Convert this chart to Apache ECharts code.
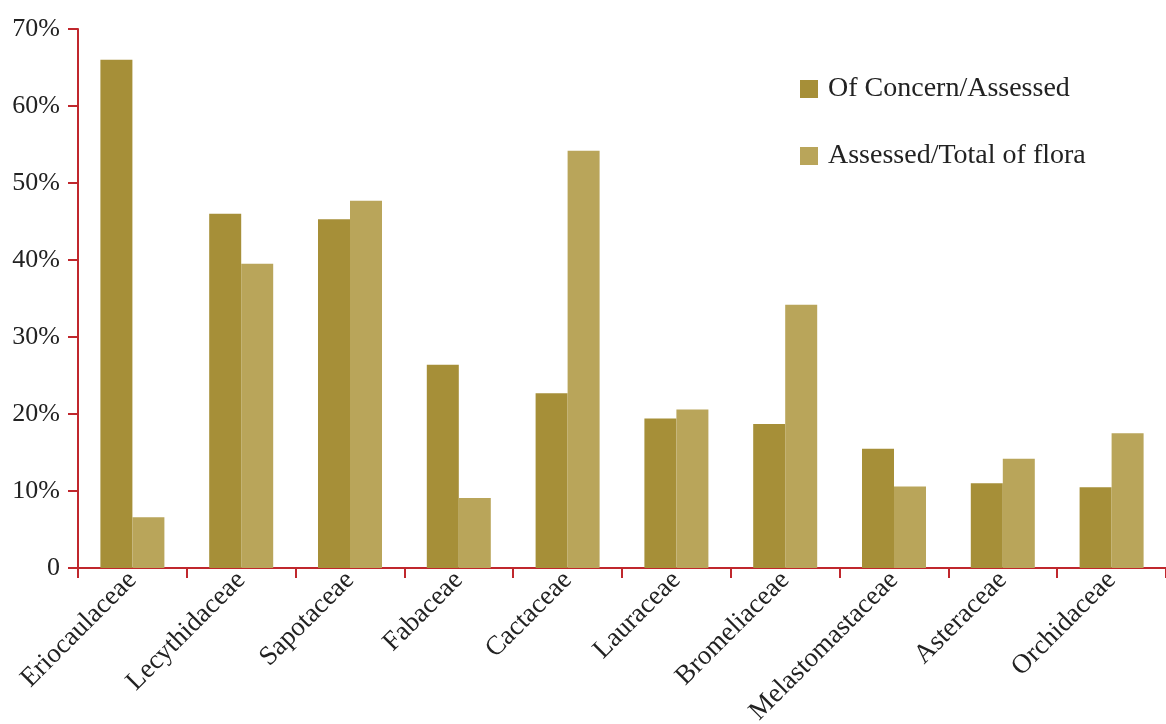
<!DOCTYPE html>
<html>
<head>
<meta charset="utf-8">
<script src="https://cdn.jsdelivr.net/npm/echarts@6/dist/echarts.min.js"></script>
<style>
  html, body { margin: 0; padding: 0; background: #fff; }
  #chart { width: 1166px; height: 724px; }
</style>
</head>
<body>
<div id="chart"></div>
<script>
// families along the x axis
var families = ['Eriocaulaceae', 'Lecythidaceae', 'Sapotaceae', 'Fabaceae', 'Cactaceae',
                'Lauraceae', 'Bromeliaceae', 'Melastomastaceae', 'Asteraceae', 'Orchidaceae'];
// percent values
var ofConcern = [66.0, 46.0, 45.3, 26.4, 22.7, 19.4, 18.7, 15.5, 11.0, 10.5];
var assessed  = [6.6, 39.5, 47.7, 9.1, 54.2, 20.6, 34.2, 10.6, 14.2, 17.5];
var seriesNames = ['Of Concern/Assessed', 'Assessed/Total of flora'];

var red = '#c0272d';
var font = '"Liberation Serif", "DejaVu Serif", serif';

var chart = echarts.init(document.getElementById('chart'));
var option = {
    animation: false,
    textStyle: { fontFamily: font },
    grid: { left: 78, right: 0, top: 29, bottom: 156, containLabel: false, outerBoundsMode: 'none' },
    legend: {
        orient: 'vertical',
        left: 795,
        top: 70,
        itemWidth: 18,
        itemHeight: 18,
        itemGap: 39,
        icon: 'rect',
        textStyle: { fontSize: 28, color: '#222', fontFamily: font, padding: [0, 0, 0, 5] },
        data: seriesNames
    },
    xAxis: {
        type: 'category',
        data: families,
        axisLine: { lineStyle: { color: red, width: 2 } },
        axisTick: { show: true, length: 10, lineStyle: { color: red, width: 2 } },
        axisLabel: { rotate: 45, fontSize: 27, color: '#222', fontFamily: font, margin: 8, interval: 0 }
    },
    yAxis: {
        type: 'value',
        min: 0,
        max: 70,
        interval: 10,
        splitLine: { show: false },
        axisLine: { show: true, lineStyle: { color: red, width: 2 } },
        axisTick: { show: true, length: 10, lineStyle: { color: red, width: 2 } },
        axisLabel: {
            fontSize: 26, color: '#222', fontFamily: font, margin: 18,
            formatter: function (v) { return v === 0 ? '0' : v + '%'; }
        }
    },
    series: [{
        name: seriesNames[0],
        type: 'bar',
        data: ofConcern,
        barWidth: 32,
        barGap: '0%',
        itemStyle: { color: '#a68f38' }
    }, {
        name: seriesNames[1],
        type: 'bar',
        data: assessed,
        barWidth: 32,
        barGap: '0%',
        itemStyle: { color: '#b9a55a' }
    }]
};
chart.setOption(option);
</script>
</body>
</html>
